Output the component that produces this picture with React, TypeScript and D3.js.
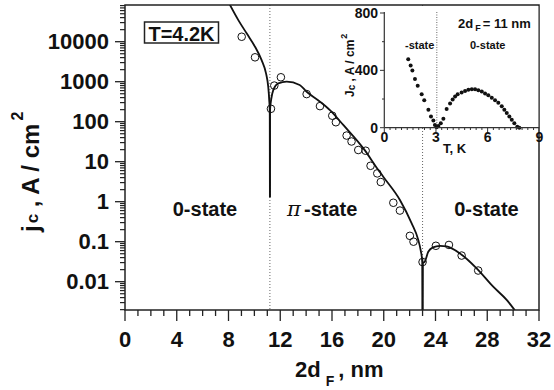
import React from "react";
import * as d3 from "d3";

// main plot: jc (A/cm2, log) against 2dF (nm), T = 4.2 K
const xTickValues = [0, 4, 8, 12, 16, 20, 24, 28, 32];
const yTickValues = [0.01, 0.1, 1, 10, 100, 1000, 10000];
const yTickLabels = ["0.01", "0.1", "1", "10", "100", "1000", "10000"];

// measured points (open circles)
const expD = [9.02, 10.05, 11.28, 11.54, 12.05, 14.04, 15.07, 16.02, 16.3, 17.13, 17.51, 18.03, 18.6, 18.98, 19.5, 19.77, 20.74, 21.25, 22.02, 22.3, 23.0, 24.03, 25.04, 26.02, 27.3];
const expJc = [13300, 4070, 210, 800, 1290, 490, 245, 141, 97, 45, 32, 19.6, 18.8, 7.9, 5.1, 3.1, 0.94, 0.6, 0.14, 0.1, 0.031, 0.079, 0.083, 0.045, 0.019];

// fitted curve, one array per branch
const fit1D = [7.9, 8.76, 9.4, 10.05, 10.56, 10.9, 11.07, 11.15, 11.19, 11.2];
const fit1Jc = [112000, 34700, 16200, 7500, 3470, 1620, 750, 347, 195, 1.3];
const fit2D = [11.2, 11.21, 11.3, 11.46, 11.85, 12.5, 13.5, 14.04, 15.0, 15.84, 16.87, 18.5, 19.44, 19.96, 21.25, 22.15, 22.67, 22.85, 22.99, 23.0];
const fit2Jc = [1.3, 195, 360, 617, 912, 1000, 830, 560, 330, 195, 83, 20, 7.2, 4.2, 1.1, 0.29, 0.11, 0.062, 0.029, 0.0005];
const fit3D = [23.0, 23.01, 23.18, 23.44, 23.8, 24.34, 24.86, 25.89, 27.18, 28.46, 29.5, 30.09, 30.3];
const fit3Jc = [0.0005, 0.029, 0.032, 0.056, 0.072, 0.079, 0.076, 0.051, 0.0216, 0.0075, 0.0035, 0.002, 0.0016];

// thin grey second curve near the two cusps
const greyAD = [11.1, 11.16, 11.2, 11.24, 11.32];
const greyAJc = [560, 260, 2.5, 260, 420];
const greyBD = [22.88, 22.95, 23.0, 23.05, 23.12];
const greyBJc = [0.055, 0.035, 0.004, 0.035, 0.04];

const dotLinesD = [11.2, 23];

// inset: jc (A/cm2) against T (K), 2dF = 11 nm
const insetXTicks = [0, 3, 6, 9];
const insetYTicks = [0, 400, 800];
const insetT = [1.39, 1.53, 1.63, 1.78, 1.94, 2.17, 2.32, 2.56, 2.71, 2.85, 2.94, 3.04, 3.14, 3.28, 3.43, 3.62, 3.82, 3.97, 4.11, 4.26, 4.49, 4.69, 4.88, 5.08, 5.27, 5.46, 5.66, 5.85, 6.04, 6.24, 6.43, 6.62, 6.82, 6.97, 7.11, 7.26, 7.4, 7.55, 7.72, 7.84];
const insetJc = [477, 434, 399, 340, 292, 233, 192, 126, 78, 50, 19, 3, 12, 31, 62, 131, 169, 197, 217, 233, 245, 256, 264, 269, 269, 261, 252, 238, 226, 209, 192, 174, 150, 126, 103, 78, 55, 31, 7, 0];
const insetTransition = 3.05;

const font = "'Liberation Sans', Arial, sans-serif";

export default function App() {
    const x = d3.scaleLinear().domain([0, 32]).range([125, 539]);
    const y = d3.scaleLog().domain([0.00196, 82700]).range([310, 5]);
    const ix = d3.scaleLinear().domain([0, 9]).range([384.3, 539.3]);
    const iy = d3.scaleLinear().domain([0, 800]).range([127.7, 13]);

    const fitLine = d3
        .line<number[]>()
        .x((d) => x(d[0]))
        .y((d) => y(d[1]))
        .curve(d3.curveMonotoneX);
    const zip = (a: number[], b: number[]) => a.map((v, i) => [v, b[i]]);

    const minorY: number[] = [];
    for (let e = -3; e <= 4; e++) {
        for (let k = 2; k <= 9; k++) {
            const v = k * Math.pow(10, e);
            if (v > 0.00196 && v < 82700) minorY.push(v);
        }
    }
    const minorX = d3.range(0, 33, 1);
    const insetMinorX = d3.range(0, 27).map((i) => i / 3);

    return (
        <svg width={554} height={390} style={{ position: "absolute", left: 0, top: 0, background: "#fff" }} fontFamily={font}>
            <defs>
                <clipPath id="plot-clip">
                    <rect x={125} y={5} width={414} height={305} />
                </clipPath>
            </defs>

            {/* dotted phase boundaries */}
            {dotLinesD.map((d) => (
                <line key={d} x1={x(d)} x2={x(d)} y1={5} y2={310} stroke="#666" strokeWidth={1} strokeDasharray="1 2" />
            ))}

            <g clipPath="url(#plot-clip)" fill="none">
                <path d={fitLine(zip(greyAD, greyAJc)) || ""} stroke="#999" strokeWidth={1} />
                <path d={fitLine(zip(greyBD, greyBJc)) || ""} stroke="#999" strokeWidth={1} />
                <path d={fitLine(zip(fit1D, fit1Jc)) || ""} stroke="#111" strokeWidth={1.8} />
                <path d={fitLine(zip(fit2D, fit2Jc)) || ""} stroke="#111" strokeWidth={1.8} />
                <path d={fitLine(zip(fit3D, fit3Jc)) || ""} stroke="#111" strokeWidth={1.8} />
                {expD.map((d, i) => (
                    <circle key={i} cx={x(d)} cy={y(expJc[i])} r={3.8} stroke="#111" strokeWidth={1} />
                ))}
            </g>

            {/* frame */}
            <rect x={125} y={5} width={414} height={305} fill="none" stroke="#222" strokeWidth={1.5} />

            {/* x axis */}
            {minorX.map((v) => (
                <line key={"mx" + v} x1={x(v)} x2={x(v)} y1={310} y2={v % 4 === 0 ? 321 : 316} stroke="#222" strokeWidth={1.3} />
            ))}
            {xTickValues.map((v) => (
                <text key={"xl" + v} x={x(v)} y={347} textAnchor="middle" fontSize={22} fontWeight="bold" fill="#111">
                    {v}
                </text>
            ))}
            <text x={295} y={377} fontSize={22} fontWeight="bold" fill="#111">
                2d
                <tspan dx={5} dy={9} fontSize={14}>F</tspan>
                <tspan dx={4} dy={-9} fontSize={22}>, nm</tspan>
            </text>

            {/* y axis */}
            {minorY.map((v, i) => (
                <line key={"my" + i} x1={120} x2={125} y1={y(v)} y2={y(v)} stroke="#222" strokeWidth={1.2} />
            ))}
            {yTickValues.map((v, i) => (
                <g key={"yl" + v}>
                    <line x1={115} x2={125} y1={y(v)} y2={y(v)} stroke="#222" strokeWidth={1.3} />
                    <text x={109} y={y(v) + 7.5} textAnchor="end" fontSize={22} fontWeight="bold" fill="#111">
                        {yTickLabels[i]}
                    </text>
                </g>
            ))}
            <g transform="translate(39, 232) rotate(-90)">
                <text x={0} y={0} fontSize={24} fontWeight="bold" fill="#111">
                    j
                    <tspan dx={2} dy={-1} fontSize={17}>c</tspan>
                    <tspan dx={0} dy={1} fontSize={24}> , A / cm</tspan>
                    <tspan dx={3} dy={-16} fontSize={16}>2</tspan>
                </text>
            </g>

            {/* annotations */}
            <rect x={144.5} y={22} width={74} height={21} fill="none" stroke="#222" strokeWidth={1.5} />
            <text x={181.5} y={40.5} textAnchor="middle" fontSize={20} fontWeight="bold" fill="#111">T=4.2K</text>
            <text x={205} y={216} textAnchor="middle" fontSize={20} fontWeight="bold" fill="#111">0-state</text>
            <text x={287} y={216} fontSize={21} fontStyle="italic" fontFamily="'DejaVu Serif', serif" fill="#111">π</text>
            <text x={304} y={216} fontSize={20} fontWeight="bold" fill="#111">-state</text>
            <text x={486.5} y={216} textAnchor="middle" fontSize={20} fontWeight="bold" fill="#111">0-state</text>

            {/* inset */}
            <rect x={384.3} y={6} width={154} height={121.7} fill="#fff" />
            <line x1={ix(insetTransition)} x2={ix(insetTransition)} y1={12} y2={127.7} stroke="#666" strokeWidth={1} strokeDasharray="1 1.5" />
            {insetT.map((t, i) => (
                <circle key={"d" + i} cx={ix(t)} cy={iy(insetJc[i])} r={2} fill="#111" />
            ))}
            <line x1={384.3} x2={384.3} y1={12} y2={127.7} stroke="#333" strokeWidth={1.2} />
            <line x1={384.3} x2={539.3} y1={127.7} y2={127.7} stroke="#333" strokeWidth={1.2} />
            {insetMinorX.map((v, i) => (
                <line key={"imx" + i} x1={ix(v)} x2={ix(v)} y1={127.7} y2={i % 9 === 0 ? 132 : 130} stroke="#333" strokeWidth={1} />
            ))}
            {[200, 600].map((v) => (
                <line key={"imy" + v} x1={382} x2={384.3} y1={iy(v)} y2={iy(v)} stroke="#333" strokeWidth={1} />
            ))}
            {insetYTicks.map((v) => (
                <g key={"iy" + v}>
                    <line x1={380} x2={384.3} y1={iy(v)} y2={iy(v)} stroke="#333" strokeWidth={1} />
                    <text x={378} y={iy(v) + 5} textAnchor="end" fontSize={14} fontWeight="bold" fill="#111">
                        {v}
                    </text>
                </g>
            ))}
            {insetXTicks.map((v) => (
                <text key={"ix" + v} x={ix(v)} y={141.5} textAnchor="middle" fontSize={14} fontWeight="bold" fill="#111">
                    {v}
                </text>
            ))}
            <text x={443} y={153} fontSize={13} fontWeight="bold" fill="#111">T, K</text>
            <g transform="translate(354, 97) rotate(-90)">
                <text x={0} y={0} fontSize={12} fontWeight="bold" fill="#111">
                    J
                    <tspan dy={1} fontSize={10}>c</tspan>
                    <tspan dy={-1} fontSize={12}> , A / cm</tspan>
                    <tspan dx={1} dy={-7} fontSize={9}>2</tspan>
                </text>
            </g>
            <text x={458} y={28} fontSize={13} fontWeight="bold" fill="#111">
                2d
                <tspan dx={2} dy={3} fontSize={9}>F</tspan>
                <tspan dx={2} dy={-3} fontSize={13}>= 11 nm</tspan>
            </text>
            <text x={405} y={49} fontSize={11} fontWeight="bold" fill="#111">-state</text>
            <text x={470} y={49} fontSize={11} fontWeight="bold" fill="#111">0-state</text>
        </svg>
    );
}
